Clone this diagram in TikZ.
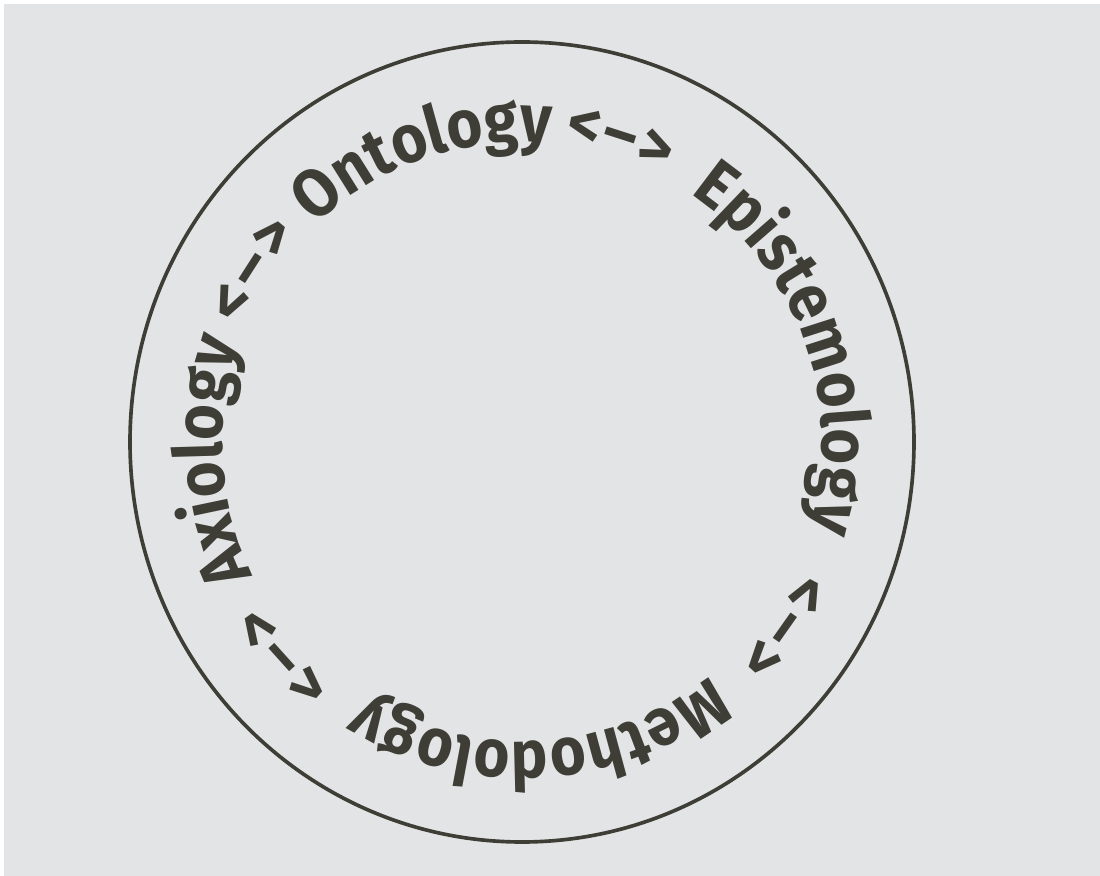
\documentclass[tikz,border=0pt]{standalone}
\usepackage{fontspec}
\setmainfont{Fira Sans}
\newfontfamily\ringfamily{Fira Sans}[FakeStretch=0.91]
\usetikzlibrary{decorations.text}
\definecolor{ink}{RGB}{62,62,54}
\definecolor{paper}{RGB}{227,228,230}
\newcommand{\ringfont}{\ringfamily\fontsize{48}{56}\selectfont\bfseries}
\newcommand{\arrowfont}{\fontsize{46}{56}\selectfont\bfseries}
\begin{document}
\begin{tikzpicture}[x=0.025cm, y=0.025cm,
  ring/.style={draw=ink, line width=2.6pt},
  word/.style={decorate, decoration={text along path, text align=center, text color=ink}},
  arrow/.style={decorate, decoration={text along path, text align={fit to path}, text color=ink}}]
  \useasboundingbox (0,0) rectangle (1100,876);
  \fill[white] (0,0) rectangle (1100,876);
  \fill[paper] (4,0) rectangle (1100,872);
  \coordinate (C) at (522,434);
  \draw[ring] (C) ellipse [x radius=392, y radius=400];
  % the four words, clockwise, centred on their angle
  \foreach \t/\m in {Ontology/109, Epistemology/19.5, Methodology/-86.5, Axiology/183.5}
    \path[word, decoration={text={|\ringfont|\t}}]
      ([shift={(\m+50:300)}]C) arc [start angle=\m+50, end angle=\m-50, radius=300];
  % the arrows between them
  \foreach \a/\b in {82/62, -25/-46, -128/-148.5, 157.5/136.5}
    \path[arrow, decoration={text={|\arrowfont|<–>{\kern0pt}}}]
      ([shift={(\a:302)}]C) arc [start angle=\a, end angle=\b, radius=302];
\end{tikzpicture}
\end{document}
